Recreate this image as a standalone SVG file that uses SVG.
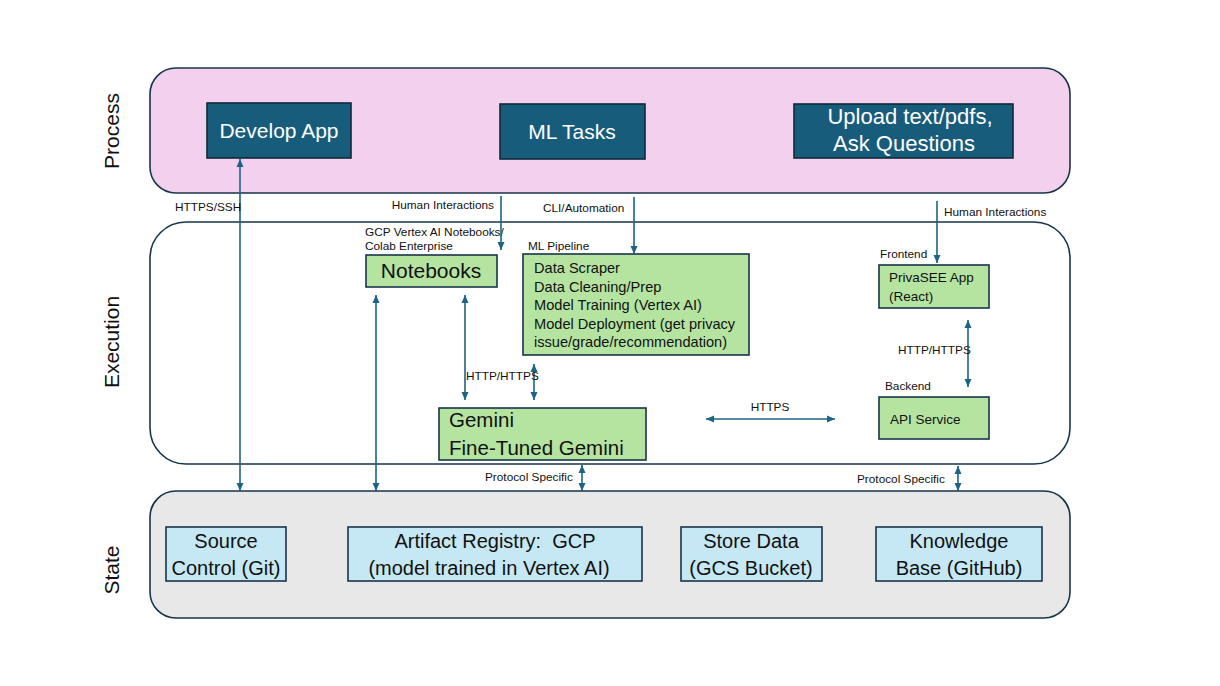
<svg xmlns="http://www.w3.org/2000/svg" width="1220" height="686" viewBox="0 0 1220 686">
<defs>
<marker id="ah" viewBox="0 0 8 8" refX="8" refY="4" markerWidth="8" markerHeight="8" markerUnits="userSpaceOnUse" orient="auto-start-reverse">
<path d="M0,0.5 L8,4 L0,7.5 z" fill="#1d6384"/>
</marker>
<style>
text{font-family:"Liberation Sans",Arial,sans-serif;fill:#111}
.band{stroke:#17354a;stroke-width:1.6}
.proc{fill:#185c7c;stroke:#0e2a3a;stroke-width:1.6}
.proc-t{fill:#fff;font-size:21px;text-anchor:middle}
.green{fill:#b5e4a1;stroke:#17354a;stroke-width:1.6}
.blue{fill:#c6e8f5;stroke:#17354a;stroke-width:1.6}
.state-t{font-size:20px;text-anchor:middle}
.side{font-size:21px;text-anchor:middle}
.sm{font-size:11.8px}
.conn line{stroke:#1d6384;stroke-width:1.6}
</style>
</defs>
<rect width="1220" height="686" fill="#fff"/>

<g id="bands">
<rect class="band" x="150" y="68" width="920" height="125" rx="26" fill="#f2d0ee"/>
<rect class="band" x="150" y="222" width="920" height="242" rx="36" fill="#fff"/>
<rect class="band" x="150" y="491" width="920" height="127" rx="26" fill="#e8e8e8"/>
</g>

<g id="side-labels">
<text class="side" transform="translate(119,131) rotate(-90)">Process</text>
<text class="side" transform="translate(119,342) rotate(-90)">Execution</text>
<text class="side" transform="translate(119,570) rotate(-90)">State</text>
</g>

<g id="develop-app">
<rect class="proc" x="207" y="103" width="144" height="55"/>
<text class="proc-t" x="279" y="138">Develop App</text>
</g>
<g id="ml-tasks">
<rect class="proc" x="500" y="104" width="145" height="55"/>
<text class="proc-t" x="572" y="139">ML Tasks</text>
</g>
<g id="upload">
<rect class="proc" x="794" y="104" width="219" height="54"/>
<text class="proc-t" x="910" y="124" style="font-size:22px">Upload text/pdfs,</text>
<text class="proc-t" x="904" y="151" style="font-size:22px">Ask Questions</text>
</g>

<g id="notebooks">
<text class="sm" x="365" y="236">GCP Vertex AI Notebooks/</text>
<text class="sm" x="365" y="250">Colab Enterprise</text>
<rect class="green" x="366" y="255" width="131" height="32"/>
<text x="431" y="278" style="font-size:21px;text-anchor:middle">Notebooks</text>
</g>

<g id="ml-pipeline">
<text class="sm" x="528" y="250">ML Pipeline</text>
<rect class="green" x="523" y="254" width="226" height="101"/>
<text x="534" y="273" style="font-size:14.6px">Data Scraper</text>
<text x="534" y="292" style="font-size:14.6px">Data Cleaning/Prep</text>
<text x="534" y="310" style="font-size:14.6px">Model Training (Vertex AI)</text>
<text x="534" y="329" style="font-size:14.6px">Model Deployment (get privacy</text>
<text x="534" y="347" style="font-size:14.6px">issue/grade/recommendation)</text>
</g>

<g id="gemini">
<rect class="green" x="439" y="408" width="207" height="52"/>
<text x="449" y="427" style="font-size:20.5px">Gemini</text>
<text x="449" y="455" style="font-size:20.5px">Fine-Tuned Gemini</text>
</g>

<g id="privasee">
<text class="sm" x="880" y="258">Frontend</text>
<rect class="green" x="879" y="265" width="110" height="43"/>
<text x="889" y="282" style="font-size:13.5px">PrivaSEE App</text>
<text x="889" y="301" style="font-size:13.5px">(React)</text>
</g>

<g id="api-service">
<text class="sm" x="885" y="390">Backend</text>
<rect class="green" x="879" y="397" width="110" height="42"/>
<text x="890" y="424" style="font-size:13.5px">API Service</text>
</g>

<g id="source-control">
<rect class="blue" x="166" y="527" width="120" height="54"/>
<text class="state-t" x="226" y="548">Source</text>
<text class="state-t" x="226" y="575">Control (Git)</text>
</g>
<g id="artifact-registry">
<rect class="blue" x="348" y="527" width="294" height="54"/>
<text class="state-t" x="495" y="548">Artifact Registry:&#160; GCP</text>
<text class="state-t" x="489" y="575">(model trained in Vertex AI)</text>
</g>
<g id="store-data">
<rect class="blue" x="681" y="527" width="141" height="54"/>
<text class="state-t" x="751" y="548">Store Data</text>
<text class="state-t" x="751" y="575">(GCS Bucket)</text>
</g>
<g id="knowledge-base">
<rect class="blue" x="876" y="527" width="166" height="54"/>
<text class="state-t" x="959" y="548">Knowledge</text>
<text class="state-t" x="959" y="575">Base (GitHub)</text>
</g>

<g id="connectors" class="conn">
<line x1="240" y1="159" x2="240" y2="491" marker-start="url(#ah)" marker-end="url(#ah)"/>
<text class="sm" x="175" y="211">HTTPS/SSH</text>
<line x1="501" y1="196" x2="501" y2="250" marker-end="url(#ah)"/>
<text class="sm" x="494" y="209" text-anchor="end">Human Interactions</text>
<line x1="634" y1="197" x2="634" y2="254" marker-end="url(#ah)"/>
<text class="sm" x="543" y="212">CLI/Automation</text>
<line x1="937" y1="201" x2="937" y2="263" marker-end="url(#ah)"/>
<text class="sm" x="944" y="216">Human Interactions</text>
<line x1="376" y1="295" x2="376" y2="491" marker-start="url(#ah)" marker-end="url(#ah)"/>
<line x1="465" y1="295" x2="465" y2="400" marker-start="url(#ah)" marker-end="url(#ah)"/>
<line x1="534" y1="364" x2="534" y2="400" marker-start="url(#ah)" marker-end="url(#ah)"/>
<text class="sm" x="466" y="380">HTTP/HTTPS</text>
<line x1="582" y1="465" x2="582" y2="491" marker-start="url(#ah)" marker-end="url(#ah)"/>
<text class="sm" x="485" y="481">Protocol Specific</text>
<line x1="968" y1="320" x2="968" y2="387" marker-start="url(#ah)" marker-end="url(#ah)"/>
<text class="sm" x="898" y="354">HTTP/HTTPS</text>
<line x1="706" y1="419" x2="835" y2="419" marker-start="url(#ah)" marker-end="url(#ah)"/>
<text class="sm" x="770" y="411" text-anchor="middle">HTTPS</text>
<line x1="958" y1="466" x2="958" y2="491" marker-start="url(#ah)" marker-end="url(#ah)"/>
<text class="sm" x="857" y="483">Protocol Specific</text>
</g>
</svg>
